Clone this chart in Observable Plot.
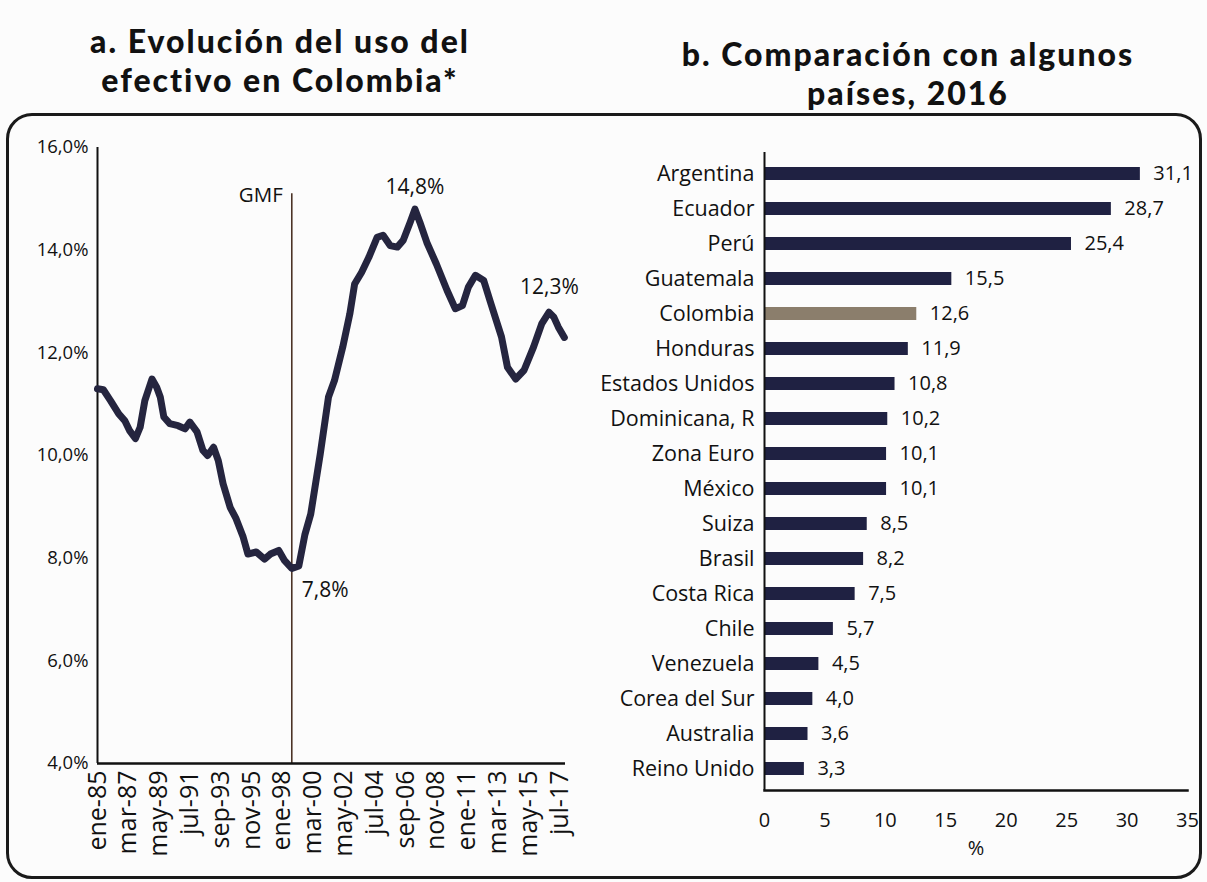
<!DOCTYPE html>
<html><head><meta charset="utf-8">
<script src="https://cdn.jsdelivr.net/npm/d3@7"></script>
<script src="https://cdn.jsdelivr.net/npm/@observablehq/plot@0.6"></script>
<style>
body{margin:0;background:#fcfcfc;width:1207px;height:882px;overflow:hidden;position:relative;font-family:"Open Sans",sans-serif;color:#111}
.title{position:absolute;font-weight:900;font-size:32px;line-height:39px;text-align:center;color:#111;font-family:Lato,"Open Sans",sans-serif;white-space:nowrap;letter-spacing:2px}
#frame{position:absolute;left:6px;top:113px;width:1190px;height:760px;border:3px solid #1a1a1a;border-radius:26px}
#left{position:absolute;left:0;top:120px}
#right{position:absolute;left:600px;top:120px}
</style></head><body>
<div class="title" style="left:0;top:21px;width:560px">a. Evolución del uso del<br>efectivo en Colombia*</div>
<div class="title" style="left:608px;top:34px;width:600px">b. Comparación con algunos<br>países, 2016</div>
<div id="frame"></div>
<div id="left"></div><div id="right"></div>
<script>
// ---- Panel a: cash use in Colombia (%) ----
const months = ["1985-01","1985-06","1985-12","1986-07","1986-12","1987-04","1987-09","1988-01","1988-05","1988-11","1989-03","1989-06","1989-09","1990-02","1990-09","1991-03","1991-07","1992-01","1992-06","1992-10","1993-03","1993-07","1993-11","1994-05","1994-10","1995-04","1995-08","1996-03","1996-10","1997-03","1997-10","1998-03","1998-09","1999-03","1999-08","2000-01","2000-09","2001-04","2001-09","2002-04","2002-10","2003-02","2003-08","2004-02","2004-09","2005-02","2005-08","2006-02","2006-07","2007-01","2007-05","2007-09","2008-03","2008-11","2009-08","2010-03","2010-09","2011-02","2011-08","2012-03","2012-09","2013-06","2013-11","2014-06","2015-01","2015-09","2016-04","2016-10","2017-02","2017-06","2017-11"];
const cashShare = [11.30,11.28,11.07,10.81,10.68,10.49,10.33,10.55,11.07,11.49,11.33,11.14,10.75,10.62,10.58,10.52,10.65,10.46,10.10,10.00,10.16,9.90,9.45,8.99,8.77,8.41,8.08,8.12,7.98,8.08,8.15,7.95,7.80,7.85,8.45,8.86,10.03,11.14,11.46,12.11,12.76,13.34,13.57,13.86,14.25,14.29,14.09,14.06,14.19,14.55,14.80,14.55,14.15,13.73,13.22,12.86,12.92,13.28,13.51,13.41,12.96,12.31,11.72,11.49,11.66,12.11,12.57,12.79,12.70,12.50,12.30];
const xTickDates = ["1985-01","1987-03","1989-05","1991-07","1993-09","1995-11","1998-01","2000-03","2002-05","2004-07","2006-09","2008-11","2011-01","2013-03","2015-05","2017-07"];
const xTickLabels = ["ene-85","mar-87","may-89","jul-91","sep-93","nov-95","ene-98","mar-00","may-02","jul-04","sep-06","nov-08","ene-11","mar-13","may-15","jul-17"];
const yTicks = [4,6,8,10,12,14,16];
const xDomain = ["1985-01","2017-12"];
const gmfMonth = ["1998-09"];
const gmfTop = [15.1];
const gmfLabel = ["GMF"];
const annotMonths = ["2007-05","1998-09","2017-11"];
const annotValues = [14.8,7.8,12.3];

// ---- Panel b: comparison, 2016 ----
const countries = ["Argentina","Ecuador","Perú","Guatemala","Colombia","Honduras","Estados Unidos","Dominicana, R","Zona Euro","México","Suiza","Brasil","Costa Rica","Chile","Venezuela","Corea del Sur","Australia","Reino Unido"];
const values2016 = [31.1,28.7,25.4,15.5,12.6,11.9,10.8,10.2,10.1,10.1,8.5,8.2,7.5,5.7,4.5,4.0,3.6,3.3];
const highlightCountry = "Colombia";
const xTicks2 = [0,5,10,15,20,25,30,35];

const parse = d3.utcParse("%Y-%m");
const comma = v => v.toFixed(1).replace(".", ",");
const lineData = months.map((m,i)=>({date: parse(m), v: cashShare[i]}));
const tickDates = xTickDates.map(parse);
const labelOf = new Map(tickDates.map((d,i)=>[+d, xTickLabels[i]]));
const annots = annotMonths.map((m,i)=>({date: parse(m), v: annotValues[i], t: comma(annotValues[i])+"%"}));
const gmf = gmfMonth.map((m,i)=>({date: parse(m), top: gmfTop[i], t: gmfLabel[i]}));

const left = Plot.plot({
  width: 600, height: 750,
  marginLeft: 97, marginRight: 35, marginTop: 27, marginBottom: 107,
  style: {fontFamily: "Open Sans", fontSize: "18px", background: "transparent", color: "#111"},
  x: {type: "utc", domain: xDomain.map(parse)},
  y: {domain: [4,16]},
  marks: [
    Plot.axisX(tickDates, {tickFormat: d => labelOf.get(+d), tickRotate: -90, tickSize: 0, tickPadding: 7, fontSize: 25, label: null}),
    Plot.axisY(yTicks, {tickFormat: d => comma(d) + "%", tickSize: 0, tickPadding: 9, fontSize: 18.5, label: null}),
    Plot.ruleX(gmf, {x: "date", y1: 4, y2: "top", stroke: "#4b3326", strokeWidth: 1.6}),
    Plot.ruleX([parse(xDomain[0])], {stroke: "#111", strokeWidth: 2}),
    Plot.ruleY([4], {stroke: "#111", strokeWidth: 2.5}),
    Plot.line(lineData, {x: "date", y: "v", stroke: "#25253f", strokeWidth: 7, strokeLinejoin: "round", strokeLinecap: "round"}),
    Plot.text(gmf, {x: "date", y: "top", text: "t", textAnchor: "end", dx: -9, dy: 2, fontSize: 20.5}),
    Plot.text([annots[0]], {x: "date", y: "v", text: "t", dy: -22, fontSize: 21}),
    Plot.text([annots[1]], {x: "date", y: "v", text: "t", textAnchor: "start", dx: 10, dy: 22, fontSize: 21}),
    Plot.text([annots[2]], {x: "date", y: "v", text: "t", dx: -15, dy: -50, fontSize: 21})
  ]
});
document.getElementById("left").appendChild(left);

const barData = countries.map((c,i)=>({c, v: values2016[i]}));
const right = Plot.plot({
  width: 607, height: 750,
  marginLeft: 164, marginRight: 20, marginTop: 32, marginBottom: 80,
  style: {fontFamily: "Open Sans", fontSize: "20px", background: "transparent", color: "#111"},
  x: {domain: [0,35]},
  y: {domain: countries, paddingInner: 0.63, paddingOuter: 0.315},
  marks: [
    Plot.axisX(xTicks2, {tickSize: 0, tickPadding: 22, fontSize: 20, label: "%", labelAnchor: "center", labelOffset: 64, labelArrow: "none"}),
    Plot.axisY({tickSize: 0, tickPadding: 10, fontSize: 21.5, label: null}),
    Plot.barX(barData, {x: "v", y: "c", fill: d => d.c === highlightCountry ? "#8b7e6c" : "#1f2142"}),
    Plot.text(barData, {x: "v", y: "c", text: d => comma(d.v), textAnchor: "start", dx: 13, fontSize: 20}),
    Plot.ruleX([0], {stroke: "#111", strokeWidth: 2}),
    Plot.frame({anchor: "bottom", stroke: "#111", strokeWidth: 2.5})
  ]
});
document.getElementById("right").appendChild(right);
</script>
</body></html>
